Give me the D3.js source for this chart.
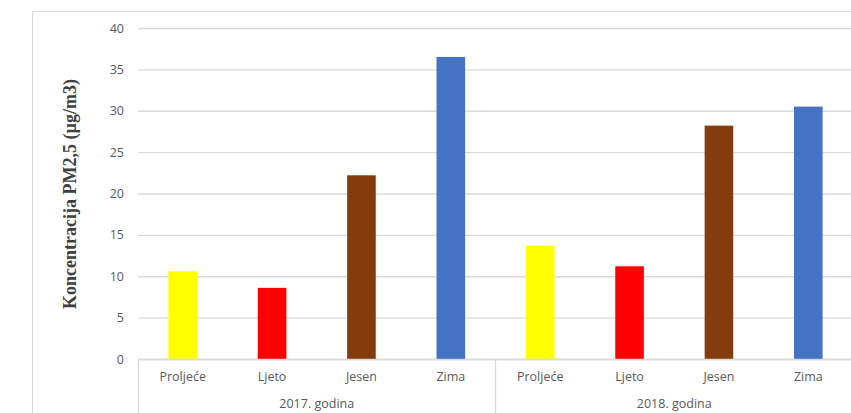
<!DOCTYPE html>
<html>
<head>
<meta charset="utf-8">
<script src="https://cdn.jsdelivr.net/npm/d3@7"></script>
<style>
  html, body { margin: 0; padding: 0; background: #fff; }
  svg { display: block; }
</style>
</head>
<body>
<svg id="chart" width="851" height="413"></svg>
<script>
// Seasonal PM2.5 concentrations, grouped by year
const years = ["2017. godina", "2018. godina"];
const seasons = ["Proljeće", "Ljeto", "Jesen", "Zima"];
const seasonColors = ["#ffff00", "#ff0000", "#843c0c", "#4472c4"];
const values2017 = [10.6, 8.6, 22.2, 36.5];
const values2018 = [13.7, 11.2, 28.2, 30.5];
const yTicks = [0, 5, 10, 15, 20, 25, 30, 35, 40];
const yTitle = "Koncentracija PM2,5 (µg/m3)";

const rows = [];
[values2017, values2018].forEach((vals, yi) => {
  vals.forEach((v, si) => rows.push({ year: years[yi], season: seasons[si], si, value: v, key: yi + "-" + si }));
});

const svg = d3.select("#chart");
const W = 851, H = 413;
const plot = { left: 138, right: 853, top: 28, bottom: 359 };

// outer chart frame
svg.append("rect")
  .attr("x", 32.5).attr("y", 11.5)
  .attr("width", W).attr("height", H)
  .attr("fill", "#fff").attr("stroke", "#d9d9d9").attr("stroke-width", 1);

const x = d3.scaleBand()
  .domain(rows.map(d => d.key))
  .range([plot.left, plot.right])
  .paddingInner(0.68).paddingOuter(0.34);

const y = d3.scaleLinear().domain([0, 40]).range([plot.bottom, plot.top]);

const textColor = "#595959";
const gridColor = "#d9d9d9";
const font = "'Open Sans', 'Liberation Sans', sans-serif";
const fontSize = "12.5px";

// horizontal gridlines and value labels
const yAxis = d3.axisLeft(y).tickValues(yTicks).tickSize(-(plot.right - plot.left)).tickPadding(14).tickFormat(d3.format("d"));
const gy = svg.append("g").attr("transform", `translate(${plot.left},0)`).call(yAxis);
gy.select(".domain").remove();
gy.selectAll(".tick line").attr("stroke", gridColor).attr("stroke-width", 1.3);
gy.selectAll(".tick text").attr("fill", textColor).style("font-family", font).style("font-size", fontSize);

// bars
svg.append("g").selectAll("rect").data(rows).join("rect")
  .attr("x", d => x(d.key))
  .attr("y", d => y(d.value))
  .attr("width", x.bandwidth())
  .attr("height", d => y(0) - y(d.value))
  .attr("fill", d => seasonColors[d.si]);

// category axis
const xAxis = d3.axisBottom(x).tickSize(0).tickPadding(13).tickFormat(k => rows.find(r => r.key === k).season);
const gx = svg.append("g").attr("transform", `translate(0,${plot.bottom})`).call(xAxis);
gx.select(".domain").attr("stroke", gridColor).attr("stroke-width", 1.3);
gx.selectAll(".tick text").attr("fill", textColor).style("font-family", font).style("font-size", fontSize);

// year group separators and labels
const step = x.step();
const groupBounds = years.map((yr, i) => {
  const keys = rows.filter(r => r.year === yr).map(r => r.key);
  const x0 = x(keys[0]) - x.paddingOuter() * step;
  const x1 = x(keys[keys.length - 1]) + x.bandwidth() + x.paddingOuter() * step;
  return { yr, x0, x1 };
});
const sepX = [groupBounds[0].x0, groupBounds[0].x1];
svg.append("g").selectAll("line").data(sepX).join("line")
  .attr("x1", d => Math.round(d) + 0.5).attr("x2", d => Math.round(d) + 0.5)
  .attr("y1", plot.bottom).attr("y2", H)
  .attr("stroke", gridColor).attr("stroke-width", 1.3);

svg.append("g").selectAll("text").data(groupBounds).join("text")
  .attr("x", d => (d.x0 + d.x1) / 2)
  .attr("y", 408)
  .attr("text-anchor", "middle")
  .attr("fill", textColor)
  .style("font-family", font).style("font-size", fontSize)
  .text(d => d.yr);

// vertical axis title
svg.append("text")
  .attr("transform", `translate(76,${(78 + 310) / 2}) rotate(-90)`)
  .attr("text-anchor", "middle")
  .attr("fill", "#404040")
  .style("font-family", "'Liberation Serif', 'Times New Roman', serif")
  .style("font-weight", "bold")
  .style("font-size", "18px")
  .text(yTitle);
</script>
</body>
</html>
